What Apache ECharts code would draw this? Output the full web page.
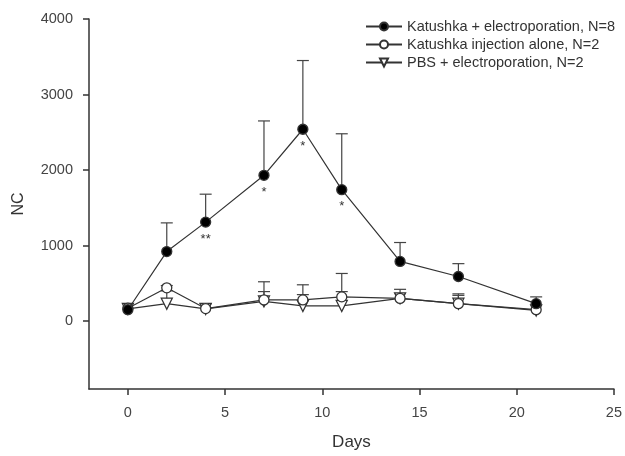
<!DOCTYPE html>
<html>
<head>
<meta charset="utf-8">
<script src="https://cdn.jsdelivr.net/npm/echarts@6/dist/echarts.min.js"></script>
<style>
  html, body { margin: 0; padding: 0; background: #fff; }
  #chart { width: 625px; height: 456px; }
</style>
</head>
<body>
<div id="chart"></div>
<script>
var days = [0, 2, 4, 7, 9, 11, 14, 17, 21]

var seriesNames = [
  'Katushka + electroporation, N=8',
  'Katushka injection alone, N=2',
  'PBS + electroporation, N=2'
]

// mean values
var katEp = [150, 920, 1310, 1930, 2540, 1740, 790, 590, 230]
var katInj = [170, 440, 165, 280, 280, 320, 300, 230, 150]
var pbsEp = [160, 230, 160, 260, 200, 200, 300, 230, 140]

// top of the error bar (mean + SE), null = no bar drawn
var katEpTop = [null, 1300, 1680, 2650, 3450, 2480, 1040, 760, 320]
var katInjTop = [null, 470, 230, 520, 480, 630, 420, 360, null]
var pbsEpTop = [null, 400, 230, 390, 350, 390, null, 340, null]

// significance marks under the first series
var sigMarks = ['', '', '**', '*', '*', '*', '', '', '']

var yTicks = [0, 1000, 2000, 3000, 4000]
var xTicks = [0, 5, 10, 15, 20, 25]

var FONT = 'Liberation Sans'
var INK = '#333'

function lineData (vals, marks) {
  return days.map(function (d, i) {
    var item = { value: [d, vals[i]] }
    if (marks && marks[i]) {
      item.label = {
        show: true,
        position: 'bottom',
        distance: 5,
        formatter: marks[i],
        fontFamily: FONT,
        fontSize: 13,
        color: INK
      }
    }
    return item
  })
}

function errData (vals, tops) {
  var out = []
  days.forEach(function (d, i) {
    if (tops[i] != null) out.push([d, vals[i], tops[i]])
  })
  return out
}

function renderErr (params, api) {
  var base = api.coord([api.value(0), api.value(1)])
  var top = api.coord([api.value(0), api.value(2)])
  var half = 6
  var style = { stroke: '#444', lineWidth: 1.2 }
  return {
    type: 'group',
    children: [
      { type: 'line', shape: { x1: base[0], y1: base[1], x2: top[0], y2: top[1] }, style: style },
      { type: 'line', shape: { x1: top[0] - half, y1: top[1], x2: top[0] + half, y2: top[1] }, style: style }
    ]
  }
}

function lineSeries (name, vals, symbol, fill, marks, z) {
  return {
    name: name,
    type: 'line',
    data: lineData(vals, marks),
    symbol: symbol,
    symbolSize: symbol === 'triangle' ? 11 : 10,
    symbolRotate: symbol === 'triangle' ? 180 : 0,
    showSymbol: true,
    lineStyle: { color: INK, width: 1.2 },
    itemStyle: { color: fill, borderColor: INK, borderWidth: 1.3 },
    z: z,
    animation: false
  }
}

function errSeries (vals, tops) {
  return {
    type: 'custom',
    renderItem: renderErr,
    data: errData(vals, tops),
    z: 1,
    silent: true,
    animation: false
  }
}

var chart = echarts.init(document.getElementById('chart'))

chart.setOption({
  backgroundColor: '#fff',
  animation: false,
  textStyle: { fontFamily: FONT },
  grid: { left: 89, right: 9, top: 19, bottom: 60, containLabel: false },
  legend: {
    orient: 'vertical',
    left: 360,
    top: 13,
    itemWidth: 36,
    itemHeight: 10,
    itemGap: 1,
    data: seriesNames,
    textStyle: { fontFamily: FONT, fontSize: 14.5, lineHeight: 17, color: INK }
  },
  xAxis: {
    type: 'value',
    min: -2,
    max: 25,
    name: 'Days',
    nameLocation: 'middle',
    nameGap: 45,
    nameTextStyle: { fontFamily: FONT, fontSize: 17, color: INK },
    splitLine: { show: false },
    axisLine: { show: true, onZero: false, lineStyle: { color: INK, width: 1.5 } },
    axisTick: { show: true, length: 6, customValues: xTicks, lineStyle: { color: INK, width: 1.5 } },
    axisLabel: { customValues: xTicks, margin: 16, fontSize: 14.5, color: '#444' }
  },
  yAxis: {
    type: 'value',
    min: -900,
    max: 4000,
    name: 'NC',
    nameLocation: 'middle',
    nameGap: 62,
    nameTextStyle: { fontFamily: FONT, fontSize: 16, color: INK },
    splitLine: { show: false },
    axisLine: { show: true, onZero: false, lineStyle: { color: INK, width: 1.5 } },
    axisTick: { show: true, length: 6, customValues: yTicks, lineStyle: { color: INK, width: 1.5 } },
    axisLabel: {
      customValues: yTicks,
      margin: 16,
      fontSize: 14.5,
      color: '#444',
      formatter: function (v) { return String(v) }
    }
  },
  series: [
    errSeries(pbsEp, pbsEpTop),
    errSeries(katInj, katInjTop),
    errSeries(katEp, katEpTop),
    lineSeries(seriesNames[2], pbsEp, 'triangle', '#fff', null, 3),
    lineSeries(seriesNames[1], katInj, 'circle', '#fff', null, 4),
    lineSeries(seriesNames[0], katEp, 'circle', '#000', sigMarks, 5)
  ]
})
</script>
</body>
</html>
